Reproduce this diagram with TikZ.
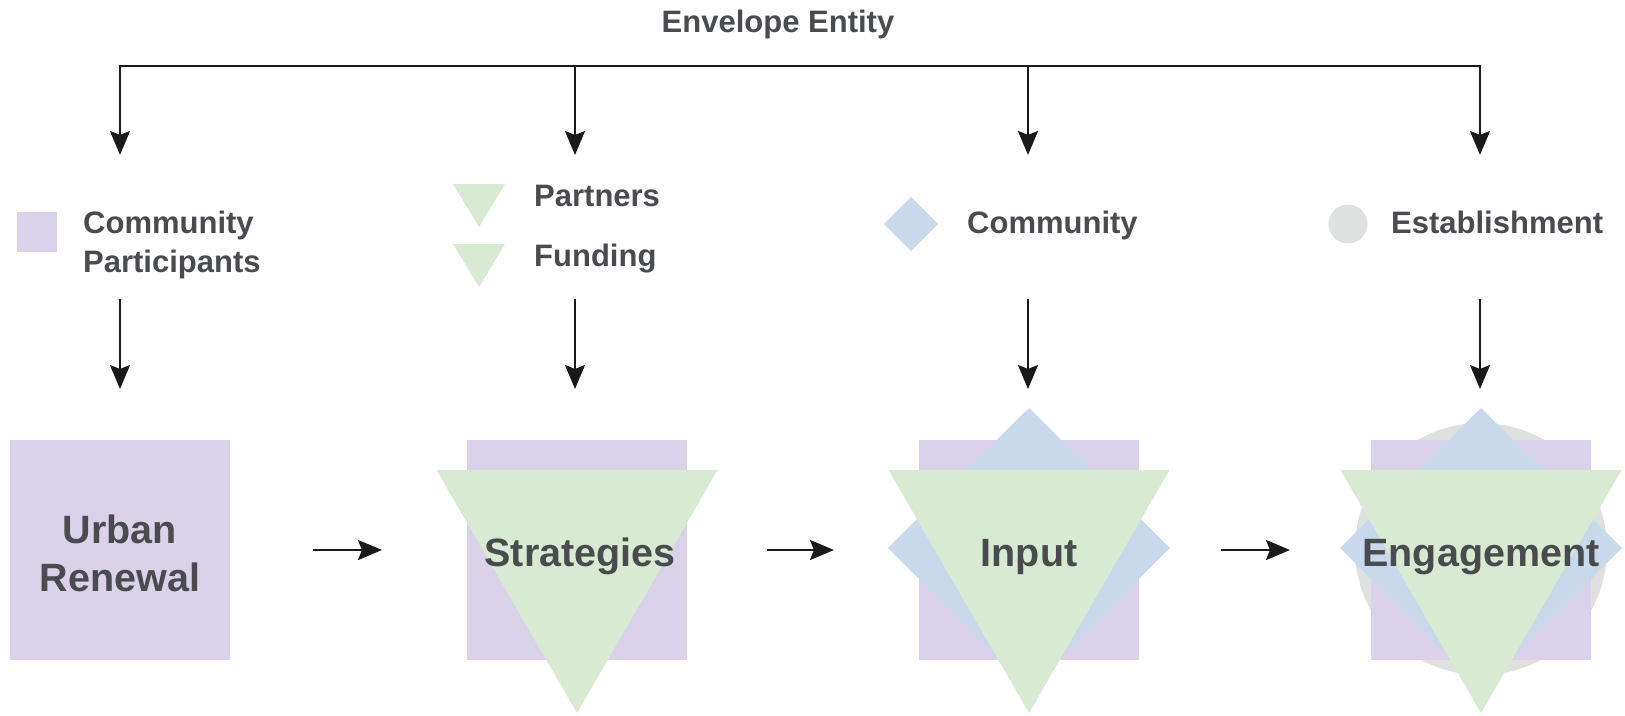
\documentclass[tikz,border=0pt]{standalone}
\usepackage{fontspec}
\setmainfont{Liberation Sans}
\usetikzlibrary{arrows.meta}
\definecolor{txt}{HTML}{4A4B4F}
\definecolor{lav}{HTML}{D9D2E9}
\definecolor{grn}{HTML}{D9EAD3}
\definecolor{blu}{HTML}{C9D9EC}
\definecolor{gry}{HTML}{DFE0E0}
\definecolor{ink}{HTML}{1A1A1A}
\begin{document}
\begin{tikzpicture}[x=1pt,y=-1pt,
  conn/.style={draw=ink, line width=2.6pt, -{Stealth[length=24pt,width=20pt,inset=4pt]}},
  bus/.style={draw=ink, line width=2.8pt, line cap=rect},
  big/.style={text=txt, font=\fontsize{39.5}{48}\selectfont\bfseries, inner sep=0pt},
  small/.style={text=txt, font=\fontsize{31}{39}\selectfont\bfseries, inner sep=0pt},
]
\useasboundingbox (0,0) rectangle (1625,715);

% ---------- title and bus ----------
\node[small, anchor=base] (title) at (778,32) {Envelope Entity};
\coordinate (b1) at (120,66);
\coordinate (b2) at (575,66);
\coordinate (b3) at (1028,66);
\coordinate (b4) at (1480,66);
\coordinate (d1) at (120,155);
\coordinate (d2) at (575,155);
\coordinate (d3) at (1028,155);
\coordinate (d4) at (1480,155);
\draw[bus] (b1) -- (b4);
\foreach \i in {1,...,4} { \draw[conn] (b\i) -- (d\i); }

% ---------- legend ----------
\fill[lav] (17,212) rectangle (57,252);
\node[small, align=left, anchor=north west] (l1) at (83,210.5) {Community\\Participants};

\fill[grn] (453,184) -- (505,184) -- (479,227) -- cycle;
\fill[grn] (453,244) -- (505,244) -- (479,287) -- cycle;
\node[small, anchor=base west] (l2a) at (534,206) {Partners};
\node[small, anchor=base west] (l2b) at (534,266) {Funding};

\fill[blu] (911,197) -- (938,224) -- (911,251) -- (884,224) -- cycle;
\node[small, anchor=base west] (l3) at (967,233) {Community};

\fill[gry] (1348,224) circle (19.5);
\node[small, anchor=base west] (l4) at (1391,233) {Establishment};

% ---------- legend-to-shape arrows ----------
\foreach \x [count=\i] in {120,575,1028,1480} {
  \coordinate (u\i) at (\x,299);
  \coordinate (v\i) at (\x,389);
  \draw[conn] (u\i) -- (v\i);
}

% ---------- column 1 ----------
\fill[lav] (10,440) rectangle (230,660);
\node[big, align=center] (t1) at (120,553) {Urban\\Renewal};

% ---------- column 2 ----------
\fill[lav] (467,440) rectangle (687,660);
\fill[grn] (436.5,470) -- (717.5,470) -- (577,713) -- cycle;
\node[big, anchor=base] (t2) at (580,566) {Strategies};

% ---------- column 3 ----------
\fill[lav] (919,440) rectangle (1139,660);
\fill[blu] (1029,408) -- (1170,548) -- (1029,688) -- (888,548) -- cycle;
\fill[grn] (888.5,470) -- (1169.5,470) -- (1029,713) -- cycle;
\node[big, anchor=base] (t3) at (1029,566) {Input};

% ---------- column 4 ----------
\fill[gry] (1481,549) circle (126);
\fill[lav] (1371,440) rectangle (1591,660);
\fill[blu] (1481,408) -- (1622,548) -- (1481,688) -- (1340,548) -- cycle;
\fill[grn] (1340.5,470) -- (1621.5,470) -- (1481,713) -- cycle;
\node[big, anchor=base] (t4) at (1481,566) {Engagement};

% ---------- flow arrows ----------
\coordinate (h1s) at (313,550);  \coordinate (h1e) at (382,550);
\coordinate (h2s) at (767,550);  \coordinate (h2e) at (834,550);
\coordinate (h3s) at (1221,550); \coordinate (h3e) at (1290,550);
\draw[conn] (h1s) -- (h1e);
\draw[conn] (h2s) -- (h2e);
\draw[conn] (h3s) -- (h3e);
\end{tikzpicture}
\end{document}
